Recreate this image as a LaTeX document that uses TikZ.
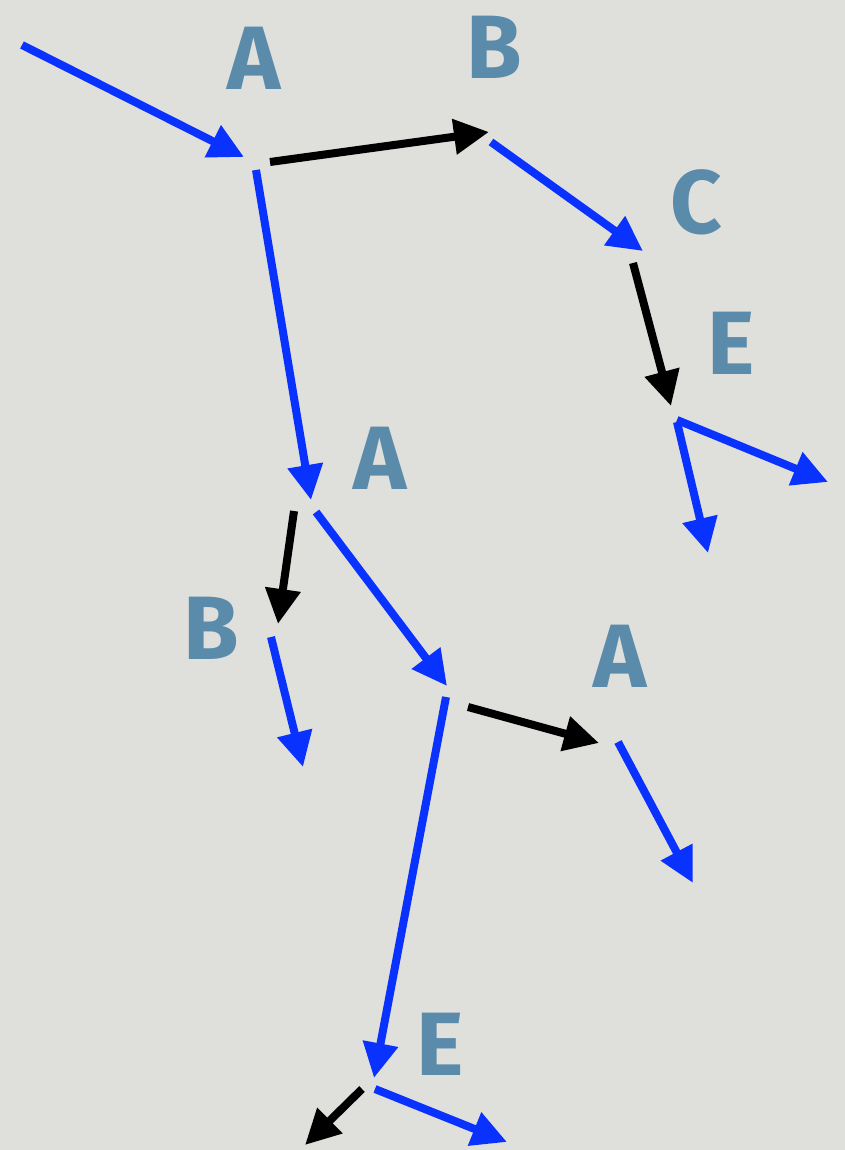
\documentclass[tikz,border=0pt]{standalone}
\usepackage{fontspec}
\setmainfont{Fira Sans}
\usetikzlibrary{arrows.meta}
\definecolor{paper}{HTML}{DFDFDB}
\definecolor{linkblue}{HTML}{0A32FF}
\definecolor{lettercol}{HTML}{5A8BAB}

\begin{document}
\begin{tikzpicture}[
    x=1pt,y=-1pt,
    lbl/.style={font=\fontsize{90}{90}\selectfont\bfseries,text=lettercol,inner sep=0pt},
    edge/.style={line width=8pt,-{Triangle[length=35pt,width=34pt]}},
    bl/.style={edge,draw=linkblue,fill=linkblue},
    bk/.style={edge,draw=black,fill=black}
]
\fill[paper] (0,0) rectangle (845,1150);
\useasboundingbox (0,0) rectangle (845,1150);
% where each move arrives (tips) and leaves
\coordinate (in) at (22,45);
\coordinate (a1) at (244,157);
\coordinate (a1r) at (270,162);
\coordinate (a1d) at (256,170);
\coordinate (b1) at (489,132);
\coordinate (b1d) at (491,142);
\coordinate (c1) at (643,251);
\coordinate (c1d) at (633,263);
\coordinate (e1) at (671,406);
\coordinate (e1r) at (677,420);
\coordinate (e1d) at (677,422);
\coordinate (a2) at (311,500);
\coordinate (a2l) at (294,511);
\coordinate (a2r) at (316,512);
\coordinate (b2) at (278,624);
\coordinate (b2d) at (271,637);
\coordinate (a3) at (447,686);
\coordinate (a3r) at (468,707);
\coordinate (a3d) at (446,697);
\coordinate (a4) at (599,743);
\coordinate (a4d) at (618,742);
\coordinate (e2) at (374,1078);
\coordinate (e2l) at (362,1089);
\coordinate (e2r) at (375,1089);
% loose ends
\coordinate (x1) at (828,482);
\coordinate (x2) at (708,553);
\coordinate (x3) at (303,767);
\coordinate (x4) at (693,883);
\coordinate (x5) at (305,1145);
\coordinate (x6) at (507,1142);
% letters
\node[lbl] (la1) at (254,58) {A};
\node[lbl] (lb1) at (494,47) {B};
\node[lbl] (lc1) at (696,202) {C};
\node[lbl] (le1) at (731,343) {E};
\node[lbl] (la2) at (380,458) {A};
\node[lbl] (lb2) at (211,628) {B};
\node[lbl] (la4) at (620,656) {A};
\node[lbl] (le2) at (440,1044) {E};
% moves
\draw[bl] (in) -- (a1);
\draw[bk] (a1r) -- (b1);
\draw[bl] (b1d) -- (c1);
\draw[bk] (c1d) -- (e1);
\draw[bl] (e1r) -- (x1);
\draw[bl] (e1d) -- (x2);
\draw[bl] (a1d) -- (a2);
\draw[bk] (a2l) -- (b2);
\draw[bl] (a2r) -- (a3);
\draw[bl] (b2d) -- (x3);
\draw[bk] (a3r) -- (a4);
\draw[bl] (a3d) -- (e2);
\draw[bl] (a4d) -- (x4);
\draw[bk] (e2l) -- (x5);
\draw[bl] (e2r) -- (x6);
\end{tikzpicture}
\end{document}
